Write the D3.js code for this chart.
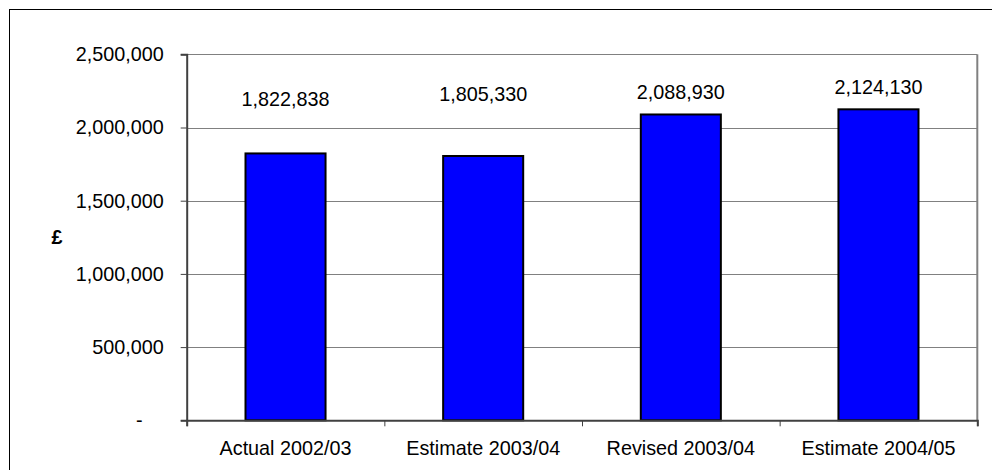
<!DOCTYPE html>
<html>
<head>
<meta charset="utf-8">
<script src="https://cdn.jsdelivr.net/npm/d3@7"></script>
<style>
  html, body { margin: 0; padding: 0; background: #fff; overflow: hidden; }
  svg { display: block; font-family: "Liberation Sans", Arial, sans-serif; }
</style>
</head>
<body>
<svg id="chart"></svg>
<script>
// Chart data
const categories = ['Actual 2002/03', 'Estimate 2003/04', 'Revised 2003/04', 'Estimate 2004/05'];
const values = [1822838, 1805330, 2088930, 2124130];
const yTicks = [0, 500000, 1000000, 1500000, 2000000, 2500000];
const yLabel = '£';

// Layout
const width = 992;
const height = 470;
const plotLeft = 186.7, plotRight = 977.3, plotTop = 54.3, plotBottom = 420.3;
const fontSize = 19.8;
// gap between bar top and value label baseline (labels sit as in the original)
const labelLift = [47, 55, 15, 15];

const svg = d3.select('#chart').attr('width', width).attr('height', height);

// outer frame (cropped at right / bottom)
svg.append('rect')
  .attr('x', 9.5).attr('y', 9.5)
  .attr('width', 1100).attr('height', 600)
  .attr('fill', 'none').attr('stroke', '#000').attr('stroke-width', 1);

const x = d3.scaleBand().domain(categories).range([plotLeft, plotRight])
  .paddingInner(0.595).paddingOuter(0.595 / 2);
const xEdges = d3.scaleLinear().domain([0, categories.length]).range([plotLeft, plotRight]);
const y = d3.scaleLinear().domain([0, 2500000]).range([plotBottom, plotTop]);

// gridlines
const grid = svg.append('g').attr('transform', `translate(${plotLeft},0)`)
  .call(d3.axisLeft(y).tickValues(yTicks.slice(1)).tickSize(-(plotRight - plotLeft)).tickFormat(''));
grid.select('.domain').remove();
grid.selectAll('line').attr('stroke', '#808080').attr('stroke-width', 1)
  .attr('shape-rendering', 'crispEdges');

// plot right border
svg.append('line')
  .attr('x1', plotRight).attr('x2', plotRight).attr('y1', plotTop).attr('y2', plotBottom)
  .attr('stroke', '#808080').attr('stroke-width', 2);

// bars
svg.selectAll('rect.bar').data(values).enter().append('rect')
  .attr('class', 'bar')
  .attr('x', (d, i) => x(categories[i]))
  .attr('y', d => y(d))
  .attr('width', x.bandwidth())
  .attr('height', d => y(0) - y(d))
  .attr('fill', '#0000FF')
  .attr('stroke', '#000')
  .attr('stroke-width', 2);

// value labels
svg.selectAll('text.val').data(values).enter().append('text')
  .attr('class', 'val')
  .attr('x', (d, i) => x(categories[i]) + x.bandwidth() / 2)
  .attr('y', (d, i) => y(d) - labelLift[i])
  .attr('text-anchor', 'middle')
  .attr('font-size', fontSize)
  .attr('fill', '#000')
  .text(d => d3.format(',')(d));

// y axis
const yAxis = svg.append('g').attr('transform', `translate(${plotLeft},0)`)
  .call(d3.axisLeft(y).tickValues(yTicks).tickSize(6).tickPadding(17)
    .tickFormat(d => d === 0 ? '-' : d3.format(',')(d)));
yAxis.select('.domain').attr('stroke', '#404040').attr('stroke-width', 2);
yAxis.selectAll('line').attr('stroke', '#404040');
yAxis.selectAll('text').attr('font-size', fontSize).attr('fill', '#000')
  .attr('font-family', '"Liberation Sans", Arial, sans-serif');
yAxis.selectAll('.tick').filter(d => d === 0).select('text').attr('dx', -21);

// x axis: tick marks at category boundaries
const xAxis = svg.append('g').attr('transform', `translate(0,${plotBottom})`)
  .call(d3.axisBottom(xEdges).tickValues(d3.range(categories.length + 1)).tickSize(6).tickFormat(''));
xAxis.select('.domain').attr('stroke', '#404040').attr('stroke-width', 2);
xAxis.selectAll('line').attr('stroke', '#404040');

// x axis: labels at category centres
const xLabels = svg.append('g').attr('transform', `translate(0,${plotBottom})`)
  .call(d3.axisBottom(x).tickSize(0).tickPadding(21));
xLabels.select('.domain').remove();
xLabels.selectAll('text').attr('font-size', fontSize).attr('fill', '#000')
  .attr('font-family', '"Liberation Sans", Arial, sans-serif');

// y axis title
svg.append('text')
  .attr('x', 57).attr('y', (plotTop + plotBottom) / 2)
  .attr('text-anchor', 'middle').attr('dominant-baseline', 'central')
  .attr('font-size', fontSize).attr('font-weight', 'bold')
  .text(yLabel);
</script>
</body>
</html>
